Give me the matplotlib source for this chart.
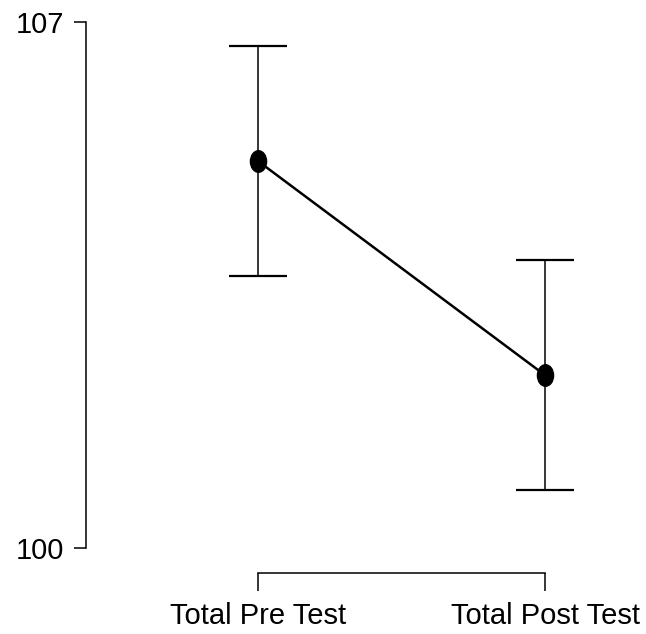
import numpy as np
import matplotlib.pyplot as plt
from matplotlib.path import Path

# data
conditions = ['Total Pre Test', 'Total Post Test']
means = [105.15, 102.30]
upper = [106.68, 103.83]
lower = [103.62, 100.77]

plt.rcParams['font.family'] = ['Liberation Sans', 'DejaVu Sans']

fig = plt.figure(figsize=(6.46, 6.34), dpi=100)
ax = fig.add_axes([86/646, 61/634, 544/646, 563/634])

x = np.arange(len(conditions))
m = np.array(means)
err = [m - np.array(lower), np.array(upper) - m]

# slightly tall dot, as in the picture
circ = Path.unit_circle()
ellipse = Path(circ.vertices * [0.75, 1.0], circ.codes)

ax.errorbar(x, m, yerr=err, fmt='none', ecolor='black', elinewidth=1.1,
            capsize=21, capthick=1.6)
ax.plot(x, m, color='black', lw=1.8, marker=ellipse, markersize=15.5, zorder=3)

ax.set_xlim(-0.599, 1.296)
ax.set_ylim(99.667, 107.16)
ax.set_xticks(x)
ax.set_xticklabels(conditions)
ax.set_yticks([100, 107])
ax.set_yticklabels(['100', '107'])

for s in ['top', 'right']:
    ax.spines[s].set_visible(False)
ax.spines['left'].set_bounds(100, 107)
ax.spines['bottom'].set_bounds(0, 1)
ax.spines['left'].set_linewidth(1.1)
ax.spines['bottom'].set_linewidth(1.1)
ax.tick_params(axis='both', width=1.1, labelsize=21)
ax.tick_params(axis='y', length=9, pad=7)
ax.tick_params(axis='x', length=13, pad=8)

fig.savefig('out.png', dpi=100)
